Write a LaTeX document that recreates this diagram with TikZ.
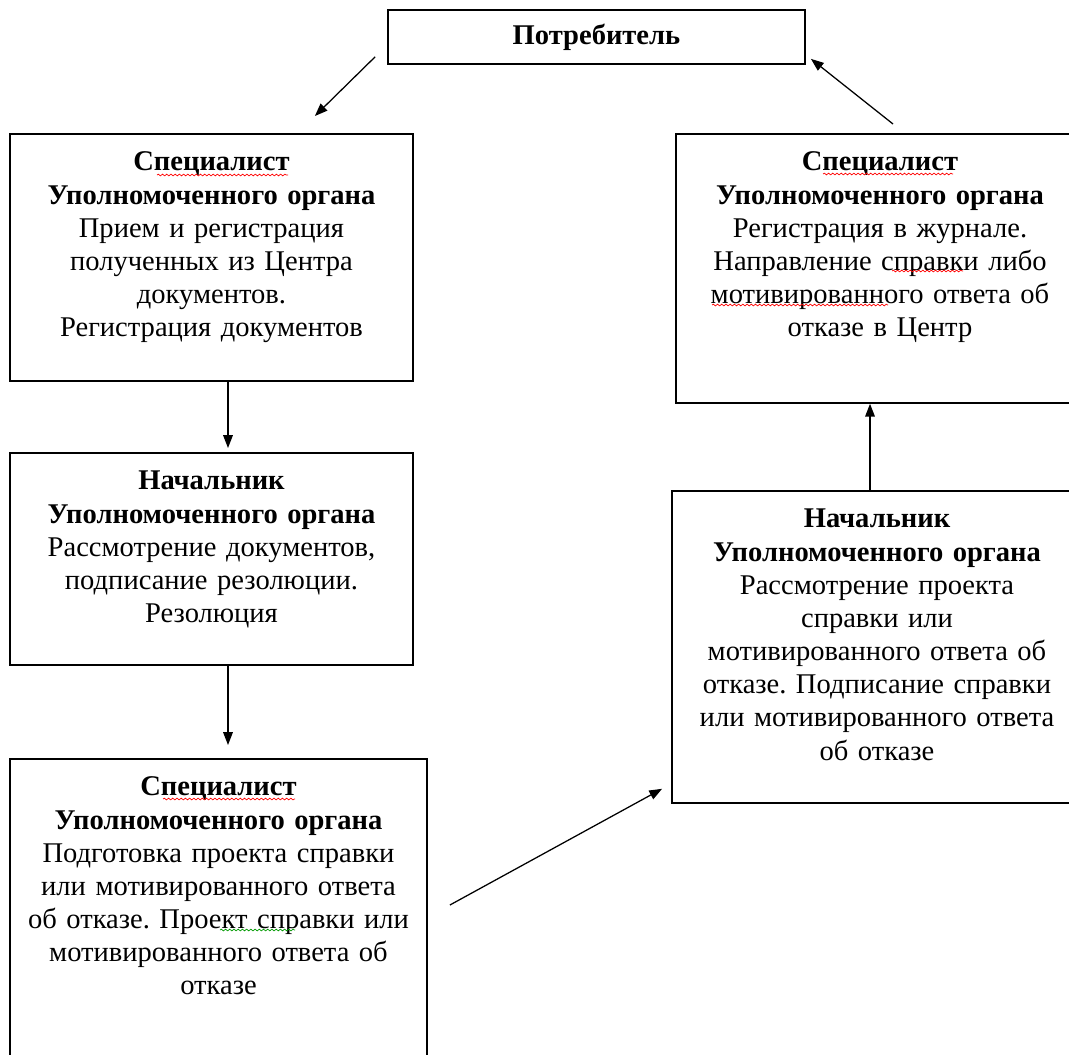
\documentclass[tikz,border=0pt]{standalone}
\usepackage{fontspec}
\setmainfont{Liberation Serif}
\usetikzlibrary{arrows.meta, decorations.pathmorphing}
\frenchspacing

\begin{document}
\begin{tikzpicture}[
  x=0.025cm, y=-0.025cm,
  every node/.style={font=\fontsize{20.3}{23.6}\selectfont},
  block/.style={rectangle, draw, line width=1.2pt, anchor=north, inner sep=0pt, align=center, text width=#1, text height=0.925cm},
  arrow/.style={-{Triangle[length=0.32cm, width=0.24cm]}, line width=0.9pt},
  wavy/.style={red, line width=0.5pt, decorate, decoration={snake, amplitude=0.6pt, segment length=3pt}}
]
  \useasboundingbox (0,0) rectangle (1069,1054);

  \node[rectangle, draw, line width=1.2pt, minimum width=10.425cm, minimum height=1.35cm] (top) at (596.5,37) {\textbf{Потребитель}};

  \node[block=10.075cm, text depth=5.25cm] (b1) at (211.5,133) {\textbf{Специалист}\\\textbf{Уполномоченного органа}\\Прием и регистрация\\полученных из Центра\\документов.\\Регистрация документов};
  \node[block=10.075cm, text depth=4.375cm] (b2) at (211.5,452) {\textbf{Начальник}\\\textbf{Уполномоченного органа}\\Рассмотрение документов,\\подписание резолюции.\\Резолюция};
  \node[block=10.425cm, text depth=7.2cm] (b3) at (218.5,758) {\textbf{Специалист}\\\textbf{Уполномоченного органа}\\Подготовка проекта справки\\или мотивированного ответа\\об отказе. Проект справки или\\мотивированного ответа об\\отказе};
  \node[block=10.2cm, text depth=5.8cm] (r1) at (880,133) {\textbf{Специалист}\\\textbf{Уполномоченного органа}\\Регистрация в журнале.\\Направление справки либо\\мотивированного ответа об\\отказе в Центр};
  \node[block=10.25cm, text depth=6.875cm] (r2) at (877,490) {\textbf{Начальник}\\\textbf{Уполномоченного органа}\\Рассмотрение проекта\\справки или\\мотивированного ответа об\\отказе. Подписание справки\\или мотивированного ответа\\об отказе};

  \draw[wavy] (157,175) -- (288,175);
  \draw[wavy] (163,799) -- (295,799);
  \draw[wavy, green!60!black] (220,930) -- (295,930);
  \draw[wavy] (823,174) -- (953,174);
  \draw[wavy] (892,271) -- (963,271);
  \draw[wavy] (712,305) -- (888,305);

  \draw[arrow] ([shift={(-12,-8)}]top.south west) -- ([shift={(-99,-17)}]b1.north east);
  \draw[arrow] ([shift={(13,-9)}]r1.north) -- ([shift={(5,-6)}]top.south east);
  \draw[arrow] ([shift={(16.5,0)}]b1.south) -- ([shift={(16.5,-4)}]b2.north);
  \draw[arrow] ([shift={(16.5,0)}]b2.south) -- ([shift={(9.5,-13)}]b3.north);
  \draw[arrow] ([shift={(22,147)}]b3.north east) -- ([shift={(-9,-15)}]r2.south west);
  \draw[arrow] ([shift={(-7,0)}]r2.north) -- ([shift={(-10,0)}]r1.south);
\end{tikzpicture}
\end{document}
